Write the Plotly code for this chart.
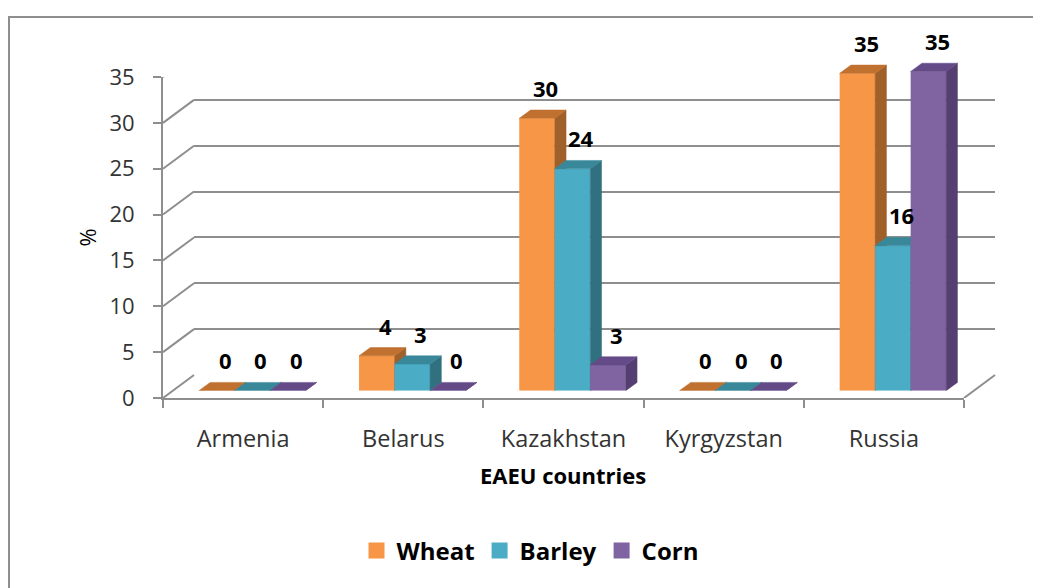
import plotly.graph_objects as go

# ---------------- data ----------------
categories = ["Armenia", "Belarus", "Kazakhstan", "Kyrgyzstan", "Russia"]
series_names = ["Wheat", "Barley", "Corn"]
wheat = [0, 3.8, 29.7, 0, 34.6]
barley = [0, 2.9, 24.2, 0, 15.8]
corn = [0, 0, 2.8, 0, 34.8]
y_ticks = [0, 5, 10, 15, 20, 25, 30, 35]

values = [wheat, barley, corn]
front_colors = ["#F79646", "#4BACC6", "#8064A2"]
side_colors = ["#A0602A", "#31707F", "#553F72"]
top_colors = ["#C0702F", "#38889A", "#654A88"]

# ---------------- geometry (pixels in the reference picture) ----------------
W, H = 1041, 588
PAGE_OFF = 8                 # page body margin of the html page
FX0, FX1 = 163, 964          # front floor edge
Y0_PX, YTOP_PX = 398, 77     # value 0 and 35 on the front axis
YMAX = 35
BAR_YMAX = 40                # headroom for bar tops / labels on the bar axes
DEPTH_DX, DEPTH_DY = 31, 23  # floor depth (back wall offset)
BAR_DX, BAR_DY = 9, 7.3      # bar front plane offset
FACE_DX, FACE_DY = 11.3, 8.3 # bar depth
BAR_W_PX = 35.5
GRID = "#8E8E8E"
FONT = "Open Sans"

PPU = (Y0_PX - YTOP_PX) / YMAX
CAT_PX = (FX1 - FX0) / len(categories)
bw = BAR_W_PX / CAT_PX
dxu = FACE_DX / CAT_PX
dyu = FACE_DY / PPU


def px(p):
    return (p - PAGE_OFF) / W


def py(p):
    return min(1.0, max(0.0, 1 - (p - PAGE_OFF) / H))


fig = go.Figure()

axis_ids = ["3", "4", "5"]
n = len(series_names)
for s, (name, vals) in enumerate(zip(series_names, values)):
    xa, ya = "x" + axis_ids[s], "y" + axis_ids[s]
    off = (s - n / 2) * bw
    xs = list(range(len(categories)))
    fig.add_trace(go.Bar(
        x=xs, y=vals, width=bw, offset=off,
        marker=dict(color=front_colors[s], line=dict(width=0)),
        xaxis=xa, yaxis=ya, showlegend=False, hoverinfo="skip",
    ))
    sx, sy, tx, ty = [], [], [], []
    for j, v in enumerate(vals):
        xl = j + off
        xr = xl + bw
        sx += [xr, xr + dxu, xr + dxu, xr, xr, None]
        sy += [0, dyu, v + dyu, v, 0, None]
        tx += [xl, xl + dxu, xr + dxu, xr, xl, None]
        ty += [v, v + dyu, v + dyu, v, v, None]
    fig.add_trace(go.Scatter(x=sx, y=sy, mode="lines", fill="toself",
                             fillcolor=side_colors[s],
                             line=dict(color=side_colors[s], width=0.5),
                             xaxis=xa, yaxis=ya, showlegend=False, hoverinfo="skip"))
    fig.add_trace(go.Scatter(x=tx, y=ty, mode="lines", fill="toself",
                             fillcolor=top_colors[s],
                             line=dict(color=top_colors[s], width=0.5),
                             xaxis=xa, yaxis=ya, showlegend=False, hoverinfo="skip"))
    for j, v in enumerate(vals):
        fig.add_annotation(
            x=j + off + bw / 2 + dxu / 2, y=v + dyu, xref=xa, yref=ya,
            text=f"{v:.0f}", showarrow=False, xanchor="center", yanchor="middle",
            yshift=22, xshift=3,
            font=dict(family=FONT, size=22, color="#000000", weight="bold"),
        )

for s, name in enumerate(series_names):
    fig.add_trace(go.Scatter(
        x=[None], y=[None], mode="markers", name=name,
        marker=dict(symbol="square", size=16, color=front_colors[s]),
        xaxis="x3", yaxis="y3", showlegend=True,
    ))

fig.add_trace(go.Scatter(x=[None], y=[None], xaxis="x2", yaxis="y2",
                         showlegend=False, hoverinfo="skip"))
fig.add_trace(go.Scatter(x=[None], y=[None], xaxis="x", yaxis="y",
                         showlegend=False, hoverinfo="skip"))

ydom = [py(Y0_PX), py(YTOP_PX)]
bar_ydom = [py(Y0_PX - BAR_DY), py(Y0_PX - BAR_DY - BAR_YMAX * PPU)]
bar_xdom = [px(FX0 + BAR_DX), px(FX1 + BAR_DX)]

shapes = []
for v in y_ticks:
    shapes.append(dict(type="line", xref="paper", yref="y",
                       x0=px(FX0), y0=v, x1=px(FX0 + DEPTH_DX), y1=v + DEPTH_DY / PPU,
                       line=dict(color=GRID, width=2), layer="below"))
shapes.append(dict(type="line", xref="paper", yref="y",
                   x0=px(FX1), y0=0, x1=px(FX1 + DEPTH_DX), y1=DEPTH_DY / PPU,
                   line=dict(color=GRID, width=2), layer="below"))
shapes.append(dict(type="path", xref="paper", yref="paper",
                   path=f"M {px(9)},{-0.1} L {px(9)},{py(17)} L 1.1,{py(17)}",
                   line=dict(color=GRID, width=2)))

fig.update_layout(
    width=W, height=H,
    margin=dict(l=0, r=0, t=0, b=0, autoexpand=False),
    paper_bgcolor="white", plot_bgcolor="rgba(0,0,0,0)",
    barmode="overlay",
    font=dict(family=FONT, size=22, color="#333333"),
    xaxis=dict(domain=[px(FX0), px(FX1)], range=[-0.5, len(categories) - 0.5], anchor="y",
               tickmode="array", tickvals=list(range(len(categories))), ticktext=categories,
               ticks="", showgrid=False, zeroline=False, showline=True,
               linecolor=GRID, linewidth=2, ticklabelstandoff=19, automargin=False,
               tickfont=dict(family=FONT, size=23.5, color="#333333"),
               minor=dict(tickmode="array",
                          tickvals=[k - 0.5 for k in range(len(categories) + 1)],
                          ticks="outside", ticklen=8, tickwidth=2, tickcolor=GRID,
                          showgrid=False)),
    yaxis=dict(domain=ydom, range=[0, YMAX], anchor="x",
               tickmode="array", tickvals=y_ticks, automargin=False,
               ticks="outside", ticklen=8, tickwidth=2, tickcolor=GRID,
               showgrid=False, zeroline=False, showline=True,
               linecolor=GRID, linewidth=2, ticklabelstandoff=14,
               tickfont=dict(family=FONT, size=22, color="#333333")),
    xaxis2=dict(domain=[px(FX0 + DEPTH_DX), px(FX1 + DEPTH_DX)], range=[0, 1],
                anchor="y2", visible=False),
    yaxis2=dict(domain=[py(Y0_PX - DEPTH_DY), py(YTOP_PX - DEPTH_DY)],
                range=[-0.02, YMAX + 0.02], anchor="x2",
                tickmode="array", tickvals=y_ticks, showticklabels=False, ticks="",
                showgrid=True, gridcolor=GRID, gridwidth=2,
                zeroline=False, showline=False),
    xaxis3=dict(domain=bar_xdom, range=[-0.5, len(categories) - 0.5], anchor="y3", visible=False),
    yaxis3=dict(domain=bar_ydom, range=[0, BAR_YMAX], anchor="x3", visible=False),
    xaxis4=dict(overlaying="x3", matches="x3", anchor="y4", visible=False),
    yaxis4=dict(overlaying="y3", matches="y3", anchor="x4", visible=False),
    xaxis5=dict(overlaying="x3", matches="x3", anchor="y5", visible=False),
    yaxis5=dict(overlaying="y3", matches="y3", anchor="x5", visible=False),
    shapes=shapes,
    legend=dict(orientation="h", x=px(530), xanchor="center", y=py(551), yanchor="middle",
                font=dict(family=FONT, size=24, color="#000000", weight="bold"),
                bgcolor="rgba(0,0,0,0)"),
    showlegend=True,
)

fig.add_annotation(x=px(86), y=py(237.5), xref="paper", yref="paper", text="%",
                   textangle=-90, showarrow=False, xanchor="center", yanchor="middle",
                   font=dict(family=FONT, size=22, color="#000000"))
fig.add_annotation(x=px(563), y=py(475), xref="paper", yref="paper", text="EAEU countries",
                   showarrow=False, xanchor="center", yanchor="middle",
                   font=dict(family=FONT, size=22, color="#000000", weight="bold"))

fig.write_html("out.html")
